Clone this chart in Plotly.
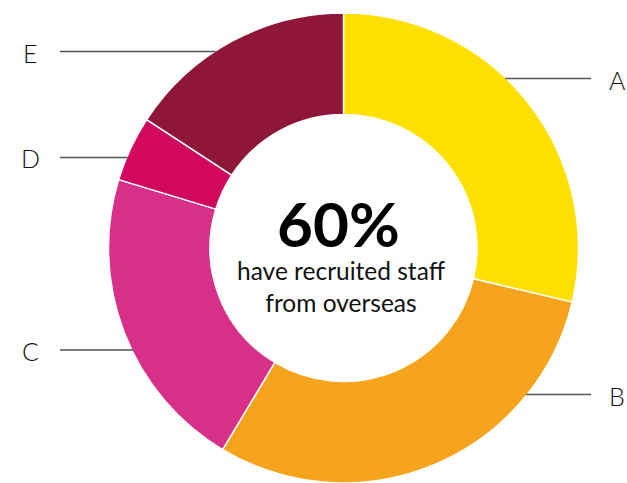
import math
import plotly.graph_objects as go

# Share of respondents in each group (percent)
categories = ["A", "B", "C", "D", "E"]
shares = [28.7, 29.9, 21.1, 4.5, 15.8]
colors = ["#FFE000", "#F5A41C", "#D72F8A", "#D2075E", "#8E1639"]

headline = "60%"
caption = "have recruited staff<br>from overseas"

# Label placement: which side each label sits on and its vertical pixel position
label_side = {"A": "right", "B": "right", "C": "left", "D": "left", "E": "left"}
label_y = {"A": 78.5, "B": 394.5, "C": 350.0, "D": 157.5, "E": 51.5}

W, H = 627, 483
CX, CY, R = 343.5, 248.0, 235.0   # donut centre and outer radius, px
HOLE = 0.568

dom_x = [(CX - R) / W, (CX + R) / W]
dom_y = [max((H - CY - R) / H, 0), (H - CY + R) / H]

fig = go.Figure(
    go.Pie(
        labels=categories,
        values=shares,
        sort=False,
        direction="clockwise",
        rotation=0,
        hole=HOLE,
        textinfo="none",
        hoverinfo="label+value",
        marker=dict(colors=colors, line=dict(color="white", width=1.5)),
        domain=dict(x=dom_x, y=dom_y),
    )
)


def px(x):
    return x / W


def py(y):
    return 1 - y / H


shapes = []
annotations = []
for cat in categories:
    y = label_y[cat]
    dy = y - CY
    dx = math.sqrt(max(R * R - dy * dy, 0))
    if label_side[cat] == "left":
        x_ring, x_end, x_text = CX - dx + 1, 60, 31
    else:
        x_ring, x_end, x_text = CX + dx - 1, 591, 617
    shapes.append(dict(
        type="line", xref="paper", yref="paper",
        x0=px(x_ring), x1=px(x_end), y0=py(y), y1=py(y),
        line=dict(color="#555555", width=1.3),
    ))
    annotations.append(dict(
        text=cat, xref="paper", yref="paper", x=px(x_text), y=py(y + 1),
        xanchor="center", yanchor="middle", showarrow=False,
        font=dict(family="Lato", size=25, color="#111111", weight=300),
    ))

annotations.append(dict(
    text=headline, xref="paper", yref="paper", x=px(338), y=py(223),
    xanchor="center", yanchor="middle", showarrow=False,
    font=dict(family="Lato", size=62, color="#000000", weight=700),
))
annotations.append(dict(
    text=caption, xref="paper", yref="paper", x=px(341.5), y=py(286),
    xanchor="center", yanchor="middle", showarrow=False,
    font=dict(family="Lato", size=24.5, color="#111111"),
))

fig.update_layout(
    width=W, height=H,
    margin=dict(l=0, r=0, t=0, b=0),
    paper_bgcolor="white", plot_bgcolor="white",
    showlegend=False,
    shapes=shapes,
    annotations=annotations,
)

fig.write_html("out.html")
